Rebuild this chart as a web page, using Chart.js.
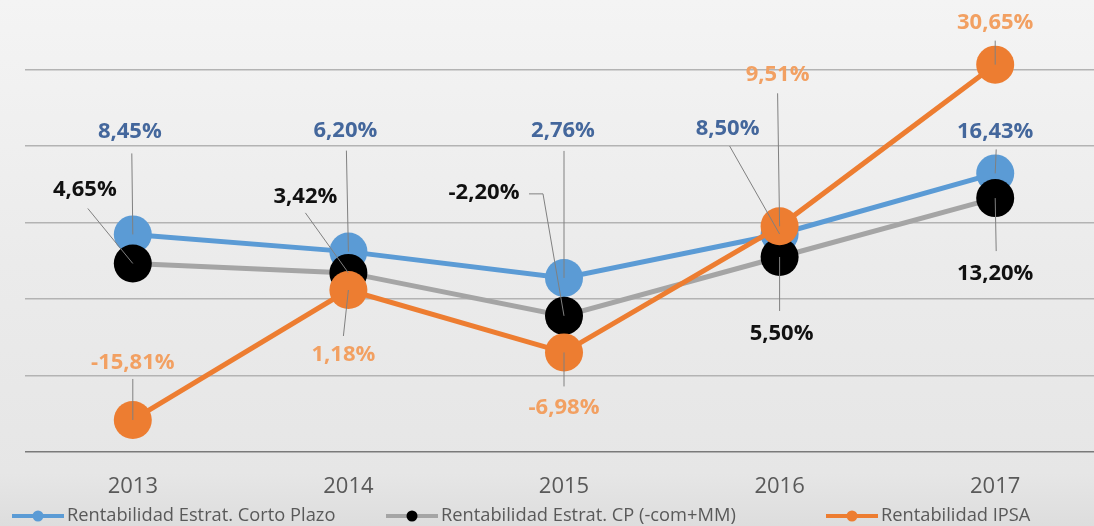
<!DOCTYPE html>
<html>
<head>
<meta charset="utf-8">
<script src="https://cdn.jsdelivr.net/npm/chart.js@4"></script>
<style>
  html, body { margin: 0; padding: 0; overflow: hidden; }
  #wrap { width: 1110px; height: 526px; }
</style>
</head>
<body>
<div id="wrap"><canvas id="chart" width="1110" height="526"></canvas></div>
<script>
const years = ["2013", "2014", "2015", "2016", "2017"];
const seriesNames = [
  "Rentabilidad Estrat. Corto Plazo",
  "Rentabilidad Estrat. CP (-com+MM)",
  "Rentabilidad IPSA",
];
const cortoPlazo = [8.45, 6.20, 2.76, 8.50, 16.43];
const cpComMM = [4.65, 3.42, -2.20, 5.50, 13.20];
const ipsa = [-15.81, 1.18, -6.98, 9.51, 30.65];

// label placement, pixel offsets from the marker: [textDx, textDy, leader points...]
const labelLayout = [
  [[-3, -103, [-1, -81]], [-3, -121, [-2, -101]], [-1, -147, [0, -127]], [-52, -105, [-50, -88]], [0, -42, [1, -24]]],
  [[-48, -74, [-45, -55]], [-43, -76, [-43, -60]], [-80, -123, [-35, -122], [-21, -122]], [2, 77, [0, 54]], [0, 76, [1, 53]]],
  [[0, -57, [0, -41]], [-5, 65, [-5, 46]], [0, 55, [0, 34]], [-2, -152, [-2, -133]], [0, -42, [0, -24]]],
];
const lineColors = ["#5b9bd5", "#a5a5a5", "#ed7d31"];
const markerColors = ["#5b9bd5", "#000000", "#ed7d31"];
const labelColors = ["#44679c", "#111111", "#f2a062"];

const fmt = (v) => v.toFixed(2).replace(".", ",") + "%";

const bgPlugin = {
  id: "bg",
  beforeDraw(chart) {
    const { ctx, width, height } = chart;
    const g = ctx.createLinearGradient(0, 0, 0, height);
    g.addColorStop(0, "#f4f4f4");
    g.addColorStop(0.5, "#ebebeb");
    g.addColorStop(0.9, "#e6e6e6");
    g.addColorStop(1, "#dddddd");
    ctx.save();
    ctx.fillStyle = g;
    ctx.fillRect(0, 0, width, height);
    ctx.restore();
  },
};

const labelsPlugin = {
  id: "pointLabels",
  afterDatasetsDraw(chart) {
    const ctx = chart.ctx;
    ctx.save();
    chart.data.datasets.forEach((ds, di) => {
      const meta = chart.getDatasetMeta(di);
      meta.data.forEach((pt, i) => {
        const lay = labelLayout[di][i];
        const pts = lay.slice(2);
        ctx.strokeStyle = "#808080";
        ctx.lineWidth = 1;
        ctx.beginPath();
        ctx.moveTo(pt.x + pts[0][0], pt.y + pts[0][1]);
        pts.slice(1).forEach((p) => ctx.lineTo(pt.x + p[0], pt.y + p[1]));
        ctx.lineTo(pt.x, pt.y);
        ctx.stroke();
        ctx.fillStyle = labelColors[di];
        ctx.font = "bold 22px 'Open Sans'";
        ctx.textAlign = "center";
        ctx.textBaseline = "middle";
        ctx.fillText(fmt(ds.data[i]), pt.x + lay[0], pt.y + lay[1]);
      });
    });
    ctx.restore();
  },
};

const legendPlugin = {
  id: "customLegend",
  afterDraw(chart) {
    const ctx = chart.ctx;
    const starts = [12, 386, 826];
    const y = 516;
    ctx.save();
    seriesNames.forEach((name, i) => {
      const x0 = starts[i];
      ctx.strokeStyle = lineColors[i];
      ctx.lineWidth = 4;
      ctx.beginPath();
      ctx.moveTo(x0, y);
      ctx.lineTo(x0 + 52, y);
      ctx.stroke();
      ctx.fillStyle = markerColors[i];
      ctx.beginPath();
      ctx.arc(x0 + 26, y, 5.5, 0, Math.PI * 2);
      ctx.fill();
      ctx.fillStyle = "#595959";
      ctx.font = "18.3px 'Open Sans'";
      ctx.textAlign = "left";
      ctx.textBaseline = "middle";
      ctx.fillText(name, x0 + 55, y);
    });
    ctx.restore();
  },
};

const makeSet = (i, data, order) => ({
  label: seriesNames[i],
  data,
  borderColor: lineColors[i],
  backgroundColor: markerColors[i],
  pointBackgroundColor: markerColors[i],
  pointBorderWidth: 0,
  pointRadius: 19,
  borderWidth: 5,
  tension: 0,
  clip: false,
  order,
});

new Chart(document.getElementById("chart"), {
  type: "line",
  data: {
    labels: years,
    datasets: [makeSet(0, cortoPlazo, 3), makeSet(1, cpComMM, 2), makeSet(2, ipsa, 1)],
  },
  options: {
    responsive: false,
    animation: false,
    layout: { autoPadding: false, padding: { left: 25, right: 7, top: 0, bottom: 0 } },
    plugins: { legend: { display: false }, tooltip: { enabled: false } },
    scales: {
      x: {
        offset: true,
        grid: { display: false },
        border: { display: false },
        ticks: { color: "#595959", font: { family: "Open Sans", size: 22 }, padding: 14 },
        afterFit(scale) { scale.height = 74; },
      },
      y: {
        min: -20,
        max: 39.1,
        afterBuildTicks(scale) {
          scale.ticks = scale.ticks.filter((t) => Math.round(t.value) % 10 === 0 && Math.abs(t.value - Math.round(t.value)) < 1e-6);
        },
        ticks: { display: false, stepSize: 10 },
        border: { display: false },
        grid: {
          drawTicks: false,
          lineWidth: 1.5,
          color: (c) => (c.tick.value === -20 ? "#7a7a7a" : "#b3b3b3"),
        },
        afterFit(scale) { scale.width = 0; },
      },
    },
  },
  plugins: [bgPlugin, labelsPlugin, legendPlugin],
});
</script>
</body>
</html>
